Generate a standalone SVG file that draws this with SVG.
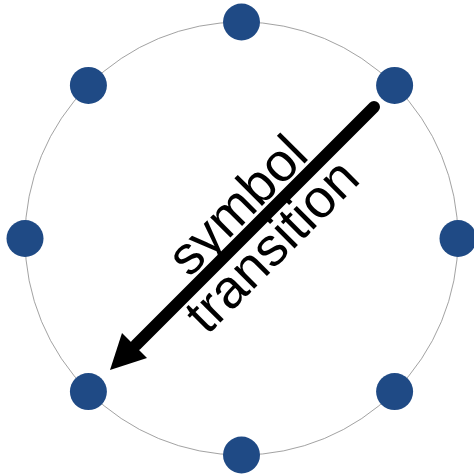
<svg xmlns="http://www.w3.org/2000/svg" width="474" height="475" viewBox="0 0 474 475">
<style>
.dot{fill:#1f4a85}
.lbl{font-family:"Liberation Sans",Arial,sans-serif;font-size:54px;fill:#000;text-anchor:middle}
</style>
<rect width="474" height="475" fill="#fff"/>
<circle cx="241.5" cy="238.5" r="216.5" fill="none" stroke="#8a8a8a" stroke-width="0.8"/>
<g id="n-top"><circle class="dot" cx="241.5" cy="22" r="18.5"/></g>
<g id="n-tr"><circle class="dot" cx="394.6" cy="85.4" r="18.5"/></g>
<g id="n-right"><circle class="dot" cx="458" cy="238.5" r="18.5"/></g>
<g id="n-br"><circle class="dot" cx="394.6" cy="391.6" r="18.5"/></g>
<g id="n-bottom"><circle class="dot" cx="241.5" cy="455" r="18.5"/></g>
<g id="n-bl"><circle class="dot" cx="88.4" cy="391.6" r="18.5"/></g>
<g id="n-left"><circle class="dot" cx="25" cy="238.5" r="18.5"/></g>
<g id="n-tl"><circle class="dot" cx="88.4" cy="85.4" r="18.5"/></g>
<g id="connectors">
<line x1="374" y1="107" x2="136" y2="345" stroke="#000" stroke-width="12" stroke-linecap="round"/>
<polygon points="110,370 122,333 147,358" fill="#000"/>
</g>
<g id="labels">
<text class="lbl" transform="translate(250,218) rotate(-45)">symbol</text>
<text class="lbl" transform="translate(284.5,258.5) rotate(-45)">transition</text>
</g>
</svg>
